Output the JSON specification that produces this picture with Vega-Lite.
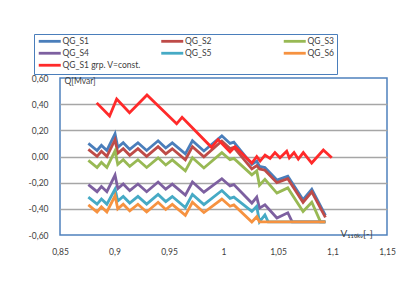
{
"$schema": "https://vega.github.io/schema/vega-lite/v6.json",
"width": 327, "height": 157,
"autosize": {"type": "none"},
"padding": {"left": 60, "top": 78, "right": 26, "bottom": 51},
"background": "white",
"config": {
  "font": "Lato",
  "view": {"stroke": "#4f81bd", "strokeWidth": 1.5},
  "axis": {"labelFont": "Lato", "labelFontSize": 8.5, "labelColor": "#404040", "titleFont": "Lato", "titleFontWeight": "normal", "titleFontSize": 8.5, "titleColor": "#404040", "domain": false, "ticks": false},
  "legend": {"labelFont": "Lato", "labelFontSize": 8.5, "labelColor": "#404040"}
},
"data": {"values": [
{"s":"QG_S1","v":0.876,"q":0.10},{"s":"QG_S1","v":0.884,"q":0.046},{"s":"QG_S1","v":0.888,"q":0.085},{"s":"QG_S1","v":0.893,"q":0.046},{"s":"QG_S1","v":0.9005,"q":0.173},{"s":"QG_S1","v":0.903,"q":0.07},{"s":"QG_S1","v":0.908,"q":0.105},{"s":"QG_S1","v":0.914,"q":0.054},{"s":"QG_S1","v":0.9215,"q":0.105},{"s":"QG_S1","v":0.9295,"q":0.046},{"s":"QG_S1","v":0.940,"q":0.12},{"s":"QG_S1","v":0.947,"q":0.065},{"s":"QG_S1","v":0.953,"q":0.104},{"s":"QG_S1","v":0.965,"q":0.02},{"s":"QG_S1","v":0.9715,"q":0.12},{"s":"QG_S1","v":0.982,"q":0.042},{"s":"QG_S1","v":0.9985,"q":0.158},{"s":"QG_S1","v":1.006,"q":0.10},{"s":"QG_S1","v":1.0095,"q":0.11},{"s":"QG_S1","v":1.026,"q":-0.06},{"s":"QG_S1","v":1.0305,"q":-0.035},{"s":"QG_S1","v":1.033,"q":-0.075},{"s":"QG_S1","v":1.038,"q":-0.085},{"s":"QG_S1","v":1.049,"q":-0.18},{"s":"QG_S1","v":1.059,"q":-0.15},{"s":"QG_S1","v":1.073,"q":-0.33},{"s":"QG_S1","v":1.081,"q":-0.25},{"s":"QG_S1","v":1.0935,"q":-0.45},
{"s":"QG_S2","v":0.876,"q":0.055},{"s":"QG_S2","v":0.884,"q":0.001},{"s":"QG_S2","v":0.888,"q":0.04},{"s":"QG_S2","v":0.893,"q":0.001},{"s":"QG_S2","v":0.9005,"q":0.128},{"s":"QG_S2","v":0.903,"q":0.025},{"s":"QG_S2","v":0.908,"q":0.06},{"s":"QG_S2","v":0.914,"q":0.009},{"s":"QG_S2","v":0.9215,"q":0.06},{"s":"QG_S2","v":0.9295,"q":0.001},{"s":"QG_S2","v":0.940,"q":0.075},{"s":"QG_S2","v":0.947,"q":0.02},{"s":"QG_S2","v":0.953,"q":0.059},{"s":"QG_S2","v":0.965,"q":-0.025},{"s":"QG_S2","v":0.9715,"q":0.075},{"s":"QG_S2","v":0.982,"q":-0.003},{"s":"QG_S2","v":0.9985,"q":0.118},{"s":"QG_S2","v":1.006,"q":0.06},{"s":"QG_S2","v":1.0095,"q":0.07},{"s":"QG_S2","v":1.026,"q":-0.095},{"s":"QG_S2","v":1.0305,"q":-0.07},{"s":"QG_S2","v":1.033,"q":-0.095},{"s":"QG_S2","v":1.038,"q":-0.105},{"s":"QG_S2","v":1.049,"q":-0.20},{"s":"QG_S2","v":1.059,"q":-0.17},{"s":"QG_S2","v":1.073,"q":-0.35},{"s":"QG_S2","v":1.081,"q":-0.27},{"s":"QG_S2","v":1.0935,"q":-0.465},
{"s":"QG_S3","v":0.876,"q":-0.03},{"s":"QG_S3","v":0.884,"q":-0.084},{"s":"QG_S3","v":0.888,"q":-0.045},{"s":"QG_S3","v":0.893,"q":-0.084},{"s":"QG_S3","v":0.9005,"q":0.043},{"s":"QG_S3","v":0.903,"q":-0.06},{"s":"QG_S3","v":0.908,"q":-0.025},{"s":"QG_S3","v":0.914,"q":-0.076},{"s":"QG_S3","v":0.9215,"q":-0.025},{"s":"QG_S3","v":0.9295,"q":-0.084},{"s":"QG_S3","v":0.940,"q":-0.01},{"s":"QG_S3","v":0.947,"q":-0.065},{"s":"QG_S3","v":0.953,"q":-0.026},{"s":"QG_S3","v":0.965,"q":-0.11},{"s":"QG_S3","v":0.9715,"q":-0.01},{"s":"QG_S3","v":0.982,"q":-0.088},{"s":"QG_S3","v":0.9985,"q":0.03},{"s":"QG_S3","v":1.006,"q":-0.025},{"s":"QG_S3","v":1.0095,"q":-0.015},{"s":"QG_S3","v":1.026,"q":-0.14},{"s":"QG_S3","v":1.0305,"q":-0.11},{"s":"QG_S3","v":1.033,"q":-0.22},{"s":"QG_S3","v":1.038,"q":-0.175},{"s":"QG_S3","v":1.049,"q":-0.28},{"s":"QG_S3","v":1.059,"q":-0.24},{"s":"QG_S3","v":1.073,"q":-0.42},{"s":"QG_S3","v":1.081,"q":-0.35},{"s":"QG_S3","v":1.089,"q":-0.5},{"s":"QG_S3","v":1.0935,"q":-0.5},
{"s":"QG_S4","v":0.876,"q":-0.215},{"s":"QG_S4","v":0.884,"q":-0.269},{"s":"QG_S4","v":0.888,"q":-0.23},{"s":"QG_S4","v":0.893,"q":-0.269},{"s":"QG_S4","v":0.9005,"q":-0.142},{"s":"QG_S4","v":0.903,"q":-0.245},{"s":"QG_S4","v":0.908,"q":-0.21},{"s":"QG_S4","v":0.914,"q":-0.261},{"s":"QG_S4","v":0.9215,"q":-0.21},{"s":"QG_S4","v":0.9295,"q":-0.269},{"s":"QG_S4","v":0.940,"q":-0.195},{"s":"QG_S4","v":0.947,"q":-0.25},{"s":"QG_S4","v":0.953,"q":-0.211},{"s":"QG_S4","v":0.965,"q":-0.295},{"s":"QG_S4","v":0.9715,"q":-0.195},{"s":"QG_S4","v":0.982,"q":-0.273},{"s":"QG_S4","v":0.9985,"q":-0.17},{"s":"QG_S4","v":1.006,"q":-0.225},{"s":"QG_S4","v":1.0095,"q":-0.215},{"s":"QG_S4","v":1.026,"q":-0.356},{"s":"QG_S4","v":1.0305,"q":-0.31},{"s":"QG_S4","v":1.033,"q":-0.395},{"s":"QG_S4","v":1.038,"q":-0.37},{"s":"QG_S4","v":1.049,"q":-0.47},{"s":"QG_S4","v":1.059,"q":-0.43},{"s":"QG_S4","v":1.063,"q":-0.5},{"s":"QG_S4","v":1.0935,"q":-0.5},
{"s":"QG_S5","v":0.876,"q":-0.31},{"s":"QG_S5","v":0.884,"q":-0.364},{"s":"QG_S5","v":0.888,"q":-0.325},{"s":"QG_S5","v":0.893,"q":-0.364},{"s":"QG_S5","v":0.9005,"q":-0.25},{"s":"QG_S5","v":0.903,"q":-0.34},{"s":"QG_S5","v":0.908,"q":-0.305},{"s":"QG_S5","v":0.914,"q":-0.356},{"s":"QG_S5","v":0.9215,"q":-0.305},{"s":"QG_S5","v":0.9295,"q":-0.364},{"s":"QG_S5","v":0.940,"q":-0.29},{"s":"QG_S5","v":0.947,"q":-0.345},{"s":"QG_S5","v":0.953,"q":-0.306},{"s":"QG_S5","v":0.965,"q":-0.39},{"s":"QG_S5","v":0.9715,"q":-0.29},{"s":"QG_S5","v":0.982,"q":-0.368},{"s":"QG_S5","v":0.9985,"q":-0.26},{"s":"QG_S5","v":1.006,"q":-0.32},{"s":"QG_S5","v":1.0095,"q":-0.31},{"s":"QG_S5","v":1.026,"q":-0.42},{"s":"QG_S5","v":1.0305,"q":-0.38},{"s":"QG_S5","v":1.033,"q":-0.5},{"s":"QG_S5","v":1.038,"q":-0.446},{"s":"QG_S5","v":1.041,"q":-0.5},{"s":"QG_S5","v":1.0935,"q":-0.5},
{"s":"QG_S6","v":0.876,"q":-0.37},{"s":"QG_S6","v":0.884,"q":-0.424},{"s":"QG_S6","v":0.888,"q":-0.385},{"s":"QG_S6","v":0.893,"q":-0.424},{"s":"QG_S6","v":0.9005,"q":-0.30},{"s":"QG_S6","v":0.903,"q":-0.40},{"s":"QG_S6","v":0.908,"q":-0.365},{"s":"QG_S6","v":0.914,"q":-0.416},{"s":"QG_S6","v":0.9215,"q":-0.365},{"s":"QG_S6","v":0.9295,"q":-0.424},{"s":"QG_S6","v":0.940,"q":-0.35},{"s":"QG_S6","v":0.947,"q":-0.405},{"s":"QG_S6","v":0.953,"q":-0.366},{"s":"QG_S6","v":0.965,"q":-0.45},{"s":"QG_S6","v":0.9715,"q":-0.35},{"s":"QG_S6","v":0.982,"q":-0.428},{"s":"QG_S6","v":0.9985,"q":-0.325},{"s":"QG_S6","v":1.006,"q":-0.38},{"s":"QG_S6","v":1.0095,"q":-0.37},{"s":"QG_S6","v":1.026,"q":-0.5},{"s":"QG_S6","v":1.0305,"q":-0.46},{"s":"QG_S6","v":1.033,"q":-0.5},{"s":"QG_S6","v":1.0935,"q":-0.5},
{"s":"QG_S1 grp. V=const.","v":0.8837,"q":0.41},{"s":"QG_S1 grp. V=const.","v":0.8955,"q":0.31},{"s":"QG_S1 grp. V=const.","v":0.902,"q":0.44},{"s":"QG_S1 grp. V=const.","v":0.9138,"q":0.335},{"s":"QG_S1 grp. V=const.","v":0.9298,"q":0.47},{"s":"QG_S1 grp. V=const.","v":0.957,"q":0.25},{"s":"QG_S1 grp. V=const.","v":0.962,"q":0.30},{"s":"QG_S1 grp. V=const.","v":0.989,"q":0.07},{"s":"QG_S1 grp. V=const.","v":0.995,"q":0.13},{"s":"QG_S1 grp. V=const.","v":1.006,"q":0.035},{"s":"QG_S1 grp. V=const.","v":1.0106,"q":0.075},{"s":"QG_S1 grp. V=const.","v":1.026,"q":-0.05},{"s":"QG_S1 grp. V=const.","v":1.0305,"q":0.0},{"s":"QG_S1 grp. V=const.","v":1.0336,"q":-0.035},{"s":"QG_S1 grp. V=const.","v":1.0381,"q":0.01},{"s":"QG_S1 grp. V=const.","v":1.0427,"q":-0.015},{"s":"QG_S1 grp. V=const.","v":1.0472,"q":0.03},{"s":"QG_S1 grp. V=const.","v":1.0518,"q":-0.01},{"s":"QG_S1 grp. V=const.","v":1.058,"q":0.04},{"s":"QG_S1 grp. V=const.","v":1.0604,"q":-0.01},{"s":"QG_S1 grp. V=const.","v":1.0647,"q":0.03},{"s":"QG_S1 grp. V=const.","v":1.0686,"q":-0.02},{"s":"QG_S1 grp. V=const.","v":1.0732,"q":0.03},{"s":"QG_S1 grp. V=const.","v":1.0809,"q":-0.05},{"s":"QG_S1 grp. V=const.","v":1.0916,"q":0.05},{"s":"QG_S1 grp. V=const.","v":1.0993,"q":-0.01}
]},
"mark": {"type": "line", "strokeWidth": 2.8, "strokeJoin": "miter", "clip": false},
"encoding": {
  "x": {"field": "v", "type": "quantitative", "scale": {"domain": [0.85, 1.15], "nice": false, "zero": false},
    "axis": {"values": [0.85, 0.9, 0.95, 1, 1.05, 1.1, 1.15], "labelExpr": "replace(format(datum.value, '.2~f'), '.', ',')", "grid": false, "labelPadding": 12, "labelFlush": false,
      "title": "V₁₁₀ₖᵥ[-]", "titleAlign": "left", "titleAnchor": "start", "titleBaseline": "middle", "titleX": 280, "titleY": -2, "titleFontSize": 10}},
  "y": {"field": "q", "type": "quantitative", "scale": {"domain": [-0.6, 0.6], "nice": false, "zero": false},
    "axis": {"values": [-0.6, -0.4, -0.2, 0, 0.2, 0.4, 0.6], "labelExpr": "replace(format(datum.value, '.2f'), '−', '-') == '-0.00' ? '0,00' : replace(replace(format(datum.value, '.2f'), '.', ','), '−', '-')", "labelPadding": 12, "labelFlush": false, "labelOverlap": false,
      "grid": true, "gridColor": {"condition": {"test": "abs(datum.value) > 0.5", "value": "transparent"}, "value": "#a6a6a6"}, "gridWidth": 1.5,
      "title": "Q[Mvar]", "titleAngle": 0, "titleAlign": "left", "titleAnchor": "start", "titleBaseline": "middle", "titleX": 4, "titleY": 2}},
  "color": {"field": "s", "type": "nominal",
    "scale": {"domain": ["QG_S1", "QG_S2", "QG_S3", "QG_S4", "QG_S5", "QG_S6", "QG_S1 grp. V=const."], "range": ["#4a7ebb", "#be4b48", "#98b954", "#7d60a0", "#46aac5", "#f69240", "#ff2a2a"]},
    "legend": {"title": null, "orient": "none", "legendX": -26, "legendY": -44, "columns": 3, "direction": "horizontal", "gridAlign": "all", "columnPadding": 14.5, "rowPadding": 0, "padding": 3,
      "labelExpr": "datum.label == 'QG_S3' ? 'QG_S3\u2003\u2003\u2003\u2003\u2003\u2003\u2003\u2003' : datum.label",
      "symbolType": "M-1,0H7.8", "symbolSize": 25, "symbolStrokeWidth": 2.8, "labelOffset": 17, "strokeColor": "#4a7ebb"}}
}
}
